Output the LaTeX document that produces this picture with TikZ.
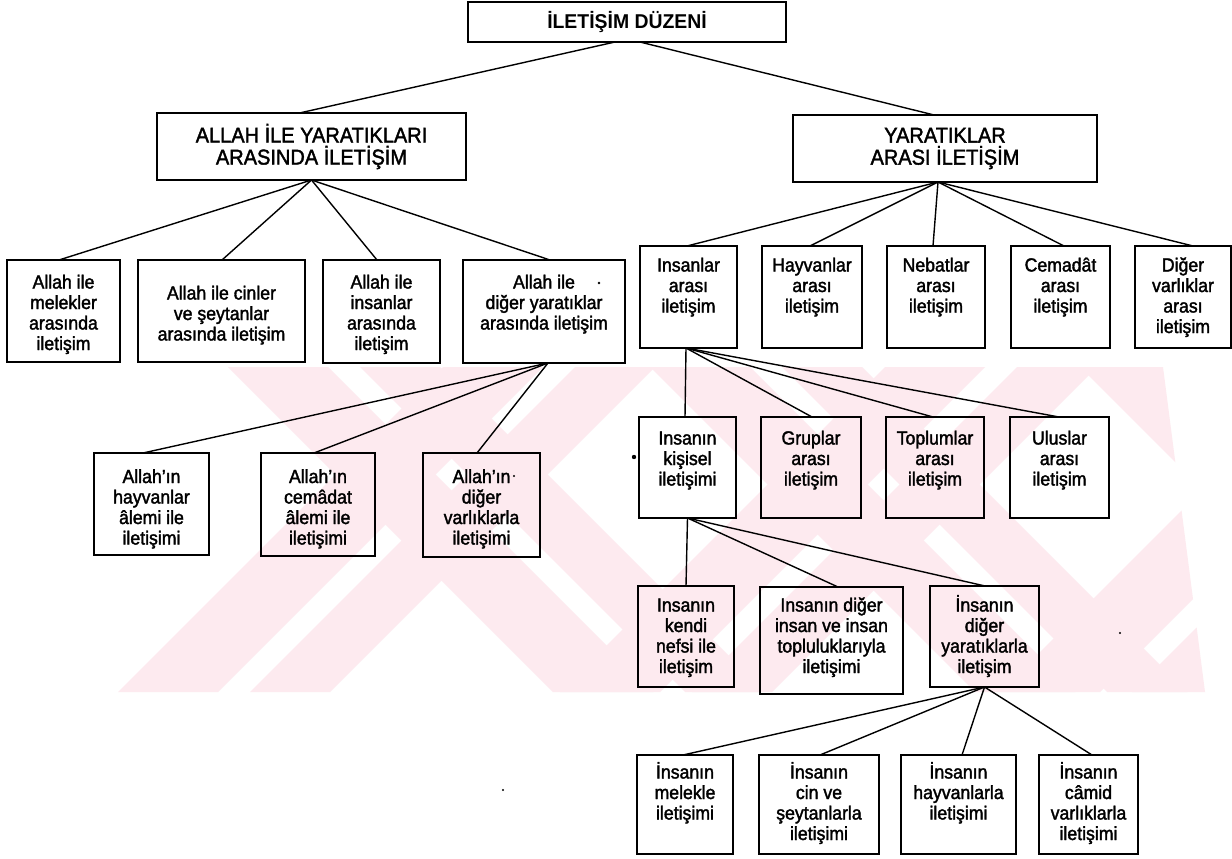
\documentclass[tikz,border=0pt]{standalone}
\usepackage{fontspec}
\setmainfont{Liberation Sans}[FakeBold=1.8,FakeStretch=0.93]
\newfontfamily\hdfont{Liberation Sans Bold}[FakeStretch=0.97]
\definecolor{wmpink}{RGB}{253,234,239}
\tikzset{
  bx/.style={draw, line width=1.5pt, inner sep=0pt, outer sep=0pt, anchor=north west,
             font=\fontsize{19}{20.5}\selectfont},
  hbx/.style={bx, line width=2.5pt, font=\fontsize{21.5}{22}\selectfont},
  cn/.style={line width=1.4pt},
  wm/.style={fill=wmpink},
  speck/.style={fill=black}
}
\newcommand{\bt}[4]{\parbox[c][#2pt][t]{#1pt}{\centering\rule{0pt}{#3pt}#4\par}}
\newcommand{\ct}[3]{\parbox[c][#2pt][c]{#1pt}{\centering #3\par}}
\begin{document}
\begin{tikzpicture}[x=1pt,y=-1pt]
\useasboundingbox (0,0) rectangle (1232,859);
\fill[white] (0,0) rectangle (1232,859);
% watermark
\begin{scope}
\clip (228,367) -- (1163,367) -- (1205,692) -- (118,692) -- cycle;
\foreach \b/\w in {118/100,250/80,560/100,692/80,1000/100,1132/80}
  \fill[wm] (\b,692) -- ({\b+\w},692) -- ({\b+\w+325},367) -- ({\b+325},367) -- cycle;
\foreach \t/\w in {228/100,360/80,650/100,782/80,1080/100}
  \fill[wm] (\t,367) -- ({\t+\w},367) -- ({\t+\w+325},692) -- ({\t+325},692) -- cycle;
\end{scope}
% level 0/1
\node[hbx, font=\hdfont\fontsize{20}{22}\selectfont] (top) at (468,2) {\ct{318}{40}{İLETİŞİM DÜZENİ}};
\node[hbx] (allah) at (157,113) {\ct{309}{67}{ALLAH İLE YARATIKLARI\\ARASINDA İLETİŞİM}};
\node[hbx, line width=1.8pt] (yar) at (793,115) {\ct{304}{67}{YARATIKLAR\\ARASI İLETİŞİM}};
% left level 2
\node[bx] (a1) at (7,260) {\bt{113}{102}{28.5}{Allah ile\\melekler\\arasında\\iletişim}};
\node[bx] (a2) at (138,260) {\bt{167}{102}{39.5}{Allah ile cinler\\ve şeytanlar\\arasında iletişim}};
\node[bx] (a3) at (323,260) {\bt{117}{103}{28.5}{Allah ile\\insanlar\\arasında\\iletişim}};
\node[bx] (a4) at (463,260) {\bt{162}{103}{28.5}{Allah ile\\diğer yaratıklar\\arasında iletişim}};
% left level 3
\node[bx] (b1) at (94,453) {\bt{115}{102}{30}{Allah'ın\\hayvanlar\\âlemi ile\\iletişimi}};
\node[bx] (b2) at (261,453) {\bt{114}{103}{30}{Allah'ın\\cemâdat\\âlemi ile\\iletişimi}};
\node[bx] (b3) at (423,453) {\bt{117}{104}{30}{Allah'ın\\diğer\\varlıklarla\\iletişimi}};
% right level 2
\node[bx] (y1) at (640,246) {\bt{97}{102}{25.5}{Insanlar\\arası\\iletişim}};
\node[bx] (y2) at (762,246) {\bt{100}{102}{25.5}{Hayvanlar\\arası\\iletişim}};
\node[bx] (y3) at (887,246) {\bt{98}{102}{25.5}{Nebatlar\\arası\\iletişim}};
\node[bx] (y4) at (1011,246) {\bt{99}{102}{25.5}{Cemadât\\arası\\iletişim}};
\node[bx] (y5) at (1135,246) {\bt{96}{102}{25.5}{Diğer\\varlıklar\\arası\\iletişim}};
% right level 3
\node[bx] (c1) at (639,417) {\bt{97}{101}{27.5}{Insanın\\kişisel\\iletişimi}};
\node[bx] (c2) at (761,417) {\bt{100}{101}{27.5}{Gruplar\\arası\\iletişim}};
\node[bx] (c3) at (886,417) {\bt{98}{101}{27.5}{Toplumlar\\arası\\iletişim}};
\node[bx] (c4) at (1010,417) {\bt{99}{101}{27.5}{Uluslar\\arası\\iletişim}};
% right level 4
\node[bx] (d1) at (638,586) {\bt{96}{101}{25.5}{Insanın\\kendi\\nefsi ile\\iletişim}};
\node[bx] (d2) at (760,587) {\bt{143}{107}{24.5}{Insanın diğer\\insan ve insan\\topluluklarıyla\\iletişimi}};
\node[bx] (d3) at (930,586) {\bt{109}{101}{25.5}{İnsanın\\diğer\\yaratıklarla\\iletişim}};
% right level 5
\node[bx] (e1) at (637,755) {\bt{96}{99}{23.5}{İnsanın\\melekle\\iletişimi}};
\node[bx] (e2) at (759,755) {\bt{120}{99}{23.5}{İnsanın\\cin ve\\şeytanlarla\\iletişimi}};
\node[bx] (e3) at (901,755) {\bt{115}{99}{23.5}{İnsanın\\hayvanlarla\\iletişimi}};
\node[bx] (e4) at (1039,755) {\bt{99}{99}{23.5}{İnsanın\\câmid\\varlıklarla\\iletişimi}};
% connectors
\draw[cn] ([xshift=-12pt]top.south) -- ([xshift=-12pt]allah.north);
\draw[cn] ([xshift=13pt]top.south) -- ([xshift=-11pt]yar.north);
\foreach \n/\s in {a1/-4.5,a2/0.5,a3/-4.5,a4/6}
  \draw[cn] (allah.south) -- ([xshift=\s pt]\n.north);
\foreach \n/\s in {y1/-1.5,y2/-2,y3/-3,y4/3.5,y5/10}
  \draw[cn] ([xshift=-7pt]yar.south) -- ([xshift=\s pt]\n.north);
\foreach \n/\s in {b1/-8.5,b2/-4,b3/-4.5}
  \draw[cn] ([xshift=4pt]a4.south) -- ([xshift=\s pt]\n.north);
\foreach \n/\s in {c1/-2.5,c2/1,c3/-2,c4/-0.5}
  \draw[cn] ([xshift=-2.5pt]y1.south) -- ([xshift=\s pt]\n.north);
\foreach \n/\s in {d1/0,d2/6.5,d3/0.5}
  \draw[cn] (c1.south) -- ([xshift=\s pt]\n.north);
\foreach \n/\s in {e1/-2,e2/1,e3/3.5,e4/3.5}
  \draw[cn] (d3.south) -- ([xshift=\s pt]\n.north);
% scan specks
\fill[speck] (599,283) circle (1.3);
\fill[speck] (514,476) circle (1.1);
\fill[speck] (634,457) circle (2.2);
\fill[speck] (1120,633) circle (1.2);
\fill[speck] (503,790) circle (1.2);
\end{tikzpicture}
\end{document}
